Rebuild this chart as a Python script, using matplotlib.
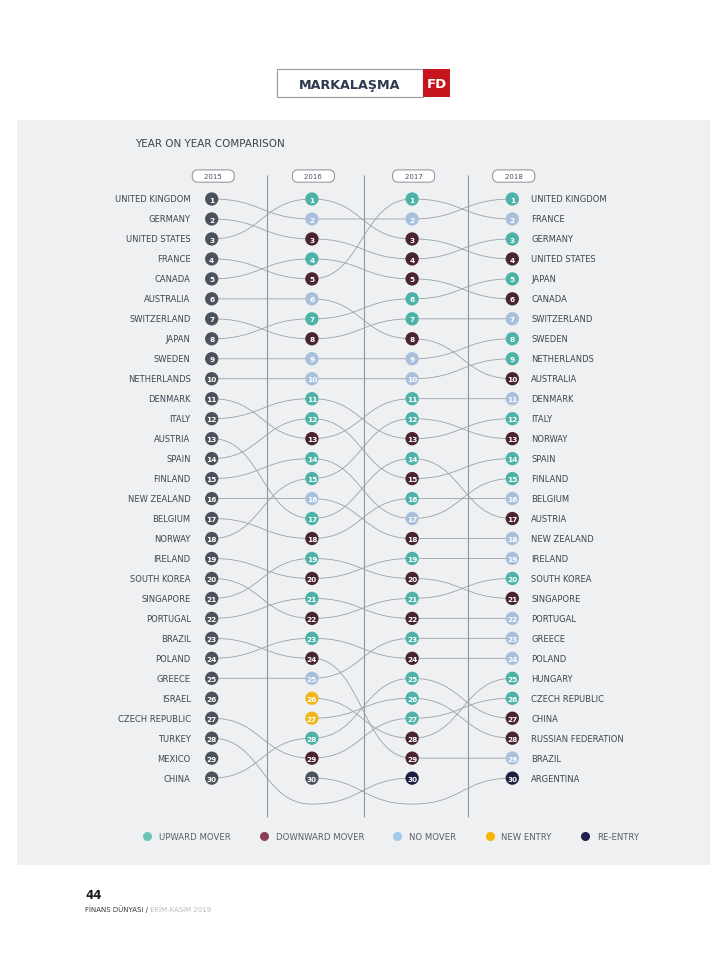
import matplotlib.pyplot as plt
from matplotlib.path import Path
from matplotlib.patches import PathPatch, Rectangle
from matplotlib.lines import Line2D

plt.rcParams['font.family'] = 'DejaVu Sans'

# rankings (index 0 = rank 1)
years = ['2015', '2016', '2017', '2018']

rank_2015 = ['UNITED KINGDOM', 'GERMANY', 'UNITED STATES', 'FRANCE', 'CANADA',
             'AUSTRALIA', 'SWITZERLAND', 'JAPAN', 'SWEDEN', 'NETHERLANDS',
             'DENMARK', 'ITALY', 'AUSTRIA', 'SPAIN', 'FINLAND',
             'NEW ZEALAND', 'BELGIUM', 'NORWAY', 'IRELAND', 'SOUTH KOREA',
             'SINGAPORE', 'PORTUGAL', 'BRAZIL', 'POLAND', 'GREECE',
             'ISRAEL', 'CZECH REPUBLIC', 'TURKEY', 'MEXICO', 'CHINA']

rank_2016 = ['UNITED STATES', 'UNITED KINGDOM', 'GERMANY', 'CANADA', 'FRANCE',
             'AUSTRALIA', 'JAPAN', 'SWITZERLAND', 'SWEDEN', 'NETHERLANDS',
             'ITALY', 'SPAIN', 'DENMARK', 'FINLAND', 'NORWAY',
             'NEW ZEALAND', 'AUSTRIA', 'BELGIUM', 'SINGAPORE', 'IRELAND',
             'PORTUGAL', 'SOUTH KOREA', 'POLAND', 'BRAZIL', 'GREECE',
             'HUNGARY', 'RUSSIAN FEDERATION', 'CHINA', 'CZECH REPUBLIC', 'ARGENTINA']

rank_2017 = ['FRANCE', 'UNITED KINGDOM', 'UNITED STATES', 'GERMANY', 'CANADA',
             'JAPAN', 'SWITZERLAND', 'AUSTRALIA', 'SWEDEN', 'NETHERLANDS',
             'DENMARK', 'NORWAY', 'ITALY', 'AUSTRIA', 'SPAIN',
             'BELGIUM', 'FINLAND', 'NEW ZEALAND', 'IRELAND', 'SINGAPORE',
             'SOUTH KOREA', 'PORTUGAL', 'GREECE', 'POLAND', 'CHINA',
             'RUSSIAN FEDERATION', 'CZECH REPUBLIC', 'HUNGARY', 'BRAZIL', 'TURKEY']

rank_2018 = ['UNITED KINGDOM', 'FRANCE', 'GERMANY', 'UNITED STATES', 'JAPAN',
             'CANADA', 'SWITZERLAND', 'SWEDEN', 'NETHERLANDS', 'AUSTRALIA',
             'DENMARK', 'ITALY', 'NORWAY', 'SPAIN', 'FINLAND',
             'BELGIUM', 'AUSTRIA', 'NEW ZEALAND', 'IRELAND', 'SOUTH KOREA',
             'SINGAPORE', 'PORTUGAL', 'GREECE', 'POLAND', 'HUNGARY',
             'CZECH REPUBLIC', 'CHINA', 'RUSSIAN FEDERATION', 'BRAZIL', 'ARGENTINA']

# circle colour per rank: U up, D down, N no move, Y new entry, R re-entry, G plain
status_2015 = 'G' * 30
status_2016 = 'UNDUDNUDNNUUDUUNUDUDUDUDNYYUDG'
status_2017 = 'UNDDDUUDNNUUDUDUNDUDUDUDUUUDDR'
status_2018 = 'UNUDUDNUUDNUDUUNDNNUDNNNUUDDNR'

legend_labels = ['UPWARD MOVER', 'DOWNWARD MOVER', 'NO MOVER', 'NEW ENTRY', 'RE-ENTRY']
legend_colors = ['#6cc4b9', '#8b3f57', '#a3c9ea', '#f4b400', '#1e1f4a']

node_colors = {'U': '#4db3a8', 'D': '#4a2431', 'N': '#a9c0dc',
               'Y': '#f2b71a', 'R': '#1d1e40', 'G': '#4a525c'}

rankings = [rank_2015, rank_2016, rank_2017, rank_2018]
statuses = [status_2015, status_2016, status_2017, status_2018]

W, H = 728, 970
fig = plt.figure(figsize=(W / 100, H / 100), dpi=100)
fig.patch.set_facecolor('white')

# page decoration in pixel coordinates
deco = fig.add_axes([0, 0, 1, 1])
deco.set_xlim(0, W)
deco.set_ylim(H, 0)
deco.axis('off')
deco.add_patch(Rectangle((17, 121), 693, 745, fc='#eef0f2', ec='none'))
deco.add_patch(Rectangle((277, 70), 146, 28, fc='white', ec='#9aa1aa', lw=0.9))
deco.add_patch(Rectangle((423, 70), 27, 28, fc='#c4161c', ec='none'))
deco.text(350, 85, 'MARKALAŞMA', ha='center', va='center', fontsize=9.2,
          weight='bold', color='#2b3a4e')
deco.text(436.5, 85, 'FD', ha='center', va='center', fontsize=9.5,
          weight='bold', color='white')
deco.text(135, 144, 'YEAR ON YEAR COMPARISON', ha='left', va='center',
          fontsize=7.5, color='#3b4450')
t1 = deco.text(85, 909, 'FİNANS DÜNYASI /', ha='left', va='center',
               fontsize=5, color='#3a3a3a')
deco.annotate(' EKİM-KASIM 2019', xy=(1, 0), xycoords=t1, ha='left', va='bottom',
              fontsize=5, color='#b9bcc0')
deco.text(85, 896, '44', ha='left', va='center', fontsize=8.5,
          weight='bold', color='#1d1d1d')

# chart axes: x = year index, y = rank
X0, DX = 211.7, 100.2
Y0, DY = 200.0, 19.97
ax = fig.add_axes([0, 0, 1, 1])
ax.set_xlim((0 - X0) / DX, (W - X0) / DX)
ax.set_ylim(1 + (H - Y0) / DY, 1 + (0 - Y0) / DY)
ax.axis('off')
ax.patch.set_alpha(0)

ax.vlines([0.555, 1.52, 2.56], -0.2, 31.95, color='#8f96a3', lw=0.8, zorder=0.5)

for i, yr in enumerate(years):
    ax.text(i + 0.015, -0.15, '    ' + yr + '    ', ha='center', va='center',
            fontsize=5.0, color='#4a525c', zorder=2,
            bbox=dict(boxstyle='round,pad=0.45,rounding_size=0.8',
                      fc='white', ec='#8a8f96', lw=0.7))


def s_curve(x0, y0, x1, y1):
    d = (x1 - x0) * 0.5
    verts = [(x0, y0), (x0 + d, y0), (x1 - d, y1), (x1, y1)]
    codes = [Path.MOVETO, Path.CURVE4, Path.CURVE4, Path.CURVE4]
    ax.add_patch(PathPatch(Path(verts, codes), fc='none', ec='#9ba1a9',
                           lw=0.6, zorder=1))


gap_rank = 31.3
countries = []
for r in rankings:
    for c in r:
        if c not in countries:
            countries.append(c)

for c in countries:
    pos = [r.index(c) + 1 if c in r else None for r in rankings]
    present = [i for i, p in enumerate(pos) if p]
    for a, b in zip(present[:-1], present[1:]):
        if b - a == 1:
            s_curve(a, pos[a], b, pos[b])
        elif b - a == 2:
            s_curve(a, pos[a], a + 1, gap_rank)
            s_curve(a + 1, gap_rank, b, pos[b])

for i, (r, st) in enumerate(zip(rankings, statuses)):
    ranks = list(range(1, len(r) + 1))
    ax.scatter([i] * len(r), ranks, s=92, c=[node_colors[k] for k in st],
               linewidths=0, zorder=3)
    for rk in ranks:
        ax.text(i, rk + 0.03, str(rk), ha='center', va='center', fontsize=5.3,
                color='white', weight='bold', zorder=4)

for rk, name in enumerate(rank_2015, start=1):
    ax.text(-0.21, rk, name, ha='right', va='center', fontsize=6.0, color='#3d4652')
for rk, name in enumerate(rank_2018, start=1):
    ax.text(3.19, rk, name, ha='left', va='center', fontsize=6.0, color='#3d4652')

handles = [Line2D([], [], marker='o', ls='', ms=6.5, mfc=col, mec='none')
           for col in legend_colors]
fig.legend(handles, legend_labels, ncol=5, loc='center',
           bbox_to_anchor=(0.537, 1 - 837 / H), frameon=False, fontsize=6.1,
           labelcolor='#5a6068', handlelength=1.0, handletextpad=0.9,
           columnspacing=3.4)

fig.savefig('out.png', dpi=100)
